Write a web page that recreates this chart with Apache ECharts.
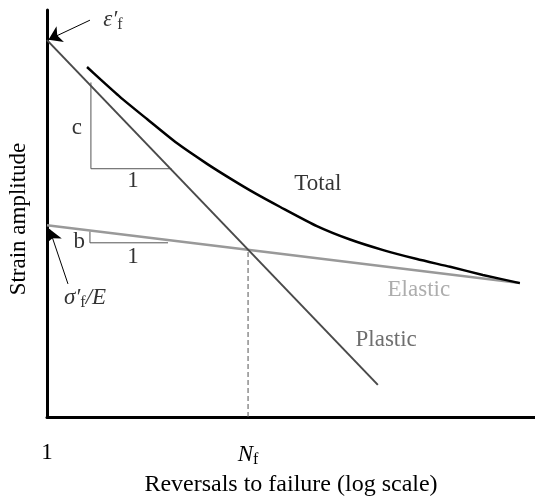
<!DOCTYPE html>
<html>
<head>
<meta charset="utf-8">
<script src="https://cdn.jsdelivr.net/npm/echarts@6/dist/echarts.min.js"></script>
<style>html,body{margin:0;padding:0;background:#fff}#c{width:535px;height:497px}</style>
</head>
<body>
<div id="c"></div>
<script>
// Abstract log-log coordinates (x: log reversals, y: log strain)
var plastic = [[0, 9.26], [6.78, 0.79]];
var elastic = [[0, 4.71], [9.69, 3.29]];
var total = [[0.82, 8.60], [1.09, 8.30], [1.50, 7.86], [2.05, 7.32], [2.66, 6.73], [3.28, 6.22], [3.81, 5.82], [4.26, 5.50], [4.78, 5.16], [5.53, 4.69], [6.21, 4.36], [6.89, 4.10], [7.58, 3.88], [8.26, 3.69], [8.93, 3.49], [9.69, 3.29]];
var slopeC = [[0.90, 8.22], [0.90, 6.10], [2.55, 6.10]];
var slopeB = [[0.88, 4.56], [0.88, 4.28], [2.48, 4.28]];
var Nf = 4.12;
var NfY = 4.10;
var tickValues = [0, Nf];
var tickLabels = ['1', '{n|N}{s|f}'];
var seriesNames = ['Total', 'Elastic', 'Plastic'];

var serif = 'Liberation Serif';
var chart = echarts.init(document.getElementById('c'), null, {renderer: 'canvas'});

function txt(x, y, text, color, extra) {
  return {
    type: 'scatter', symbolSize: 0, silent: true, z: 10,
    data: [[x, y]],
    label: Object.assign({
      show: true, position: 'inside', formatter: text,
      fontFamily: serif, fontSize: 23, color: color
    }, extra || {})
  };
}

var subRich = {
  i: {fontFamily: serif, fontStyle: 'italic', fontSize: 23, color: '#000'},
  s: {fontFamily: serif, fontSize: 16, color: '#000', padding: [11, 0, 0, 0]}
};

var option = {
  animation: false,
  backgroundColor: '#fff',
  grid: {left: 47, right: 0, top: 10, bottom: 80, outerBoundsMode: 'none', containLabel: false},
  xAxis: {
    type: 'value', min: 0, max: 10,
    name: 'Reversals to failure (log scale)',
    nameLocation: 'middle', nameGap: 56,
    nameTextStyle: {fontFamily: serif, fontSize: 24, color: '#000'},
    axisLine: {show: true, lineStyle: {color: '#000', width: 3}},
    axisTick: {show: false},
    splitLine: {show: false},
    axisLabel: {
      show: true, customValues: tickValues, margin: 24,
      fontFamily: serif, fontSize: 23, color: '#000',
      formatter: function (v) { return v === 0 ? tickLabels[0] : tickLabels[1]; },
      rich: {
        n: {fontFamily: serif, fontStyle: 'italic', fontSize: 23, color: '#000'},
        s: {fontFamily: serif, fontSize: 16, color: '#000', padding: [11, 0, 0, 0]}
      }
    }
  },
  yAxis: {
    type: 'value', min: 0, max: 10,
    axisLine: {show: true, lineStyle: {color: '#000', width: 3}},
    axisTick: {show: false},
    axisLabel: {show: false},
    splitLine: {show: false}
  },
  graphic: [{
    type: 'text', x: 19, y: 219, rotation: Math.PI / 2,
    style: {text: 'Strain amplitude', fontFamily: serif, fontSize: 23, fill: '#000', align: 'center', verticalAlign: 'middle'}
  }],
  series: [
    {type: 'line', name: seriesNames[1], data: elastic, showSymbol: false, lineStyle: {color: '#999', width: 2.5}, z: 3},
    {type: 'line', name: seriesNames[2], data: plastic, showSymbol: false, lineStyle: {color: '#4a4a4a', width: 2}, z: 4},
    {type: 'line', name: seriesNames[0], data: total, showSymbol: false, smooth: 0.2, lineStyle: {color: '#000', width: 2.5}, z: 5},
    {type: 'line', data: slopeC, showSymbol: false, lineStyle: {color: '#555', width: 1}, z: 2},
    {type: 'line', data: slopeB, showSymbol: false, lineStyle: {color: '#555', width: 1}, z: 2},
    {type: 'line', data: [[Nf, 0], [Nf, NfY]], showSymbol: false, lineStyle: {color: '#555', width: 1, type: [5, 3]}, z: 2},
    {type: 'lines', coordinateSystem: 'cartesian2d', symbol: ['none', 'arrow'], symbolSize: 13, z: 6,
      lineStyle: {color: '#000', width: 1, opacity: 1},
      data: [{coords: [[0.88, 9.75], [0.03, 9.27]]}, {coords: [[0.43, 3.27], [0.05, 4.62]]}]},
    txt(5.55, 5.72, 'Total', '#000'),
    txt(7.62, 3.12, 'Elastic', '#999'),
    txt(6.95, 1.89, 'Plastic', '#4a4a4a'),
    txt(0.61, 7.10, 'c', '#000'),
    txt(1.76, 5.80, '1', '#000'),
    txt(0.66, 4.30, 'b', '#000'),
    txt(1.76, 3.94, '1', '#000'),
    txt(1.35, 9.76, '{i|ε′}{s|f}', '#000', {rich: subRich}),
    txt(0.78, 2.93, '{i|σ′}{s|f}{i|/E}', '#000', {rich: subRich})
  ]
};
chart.setOption(option);
</script>
</body>
</html>
